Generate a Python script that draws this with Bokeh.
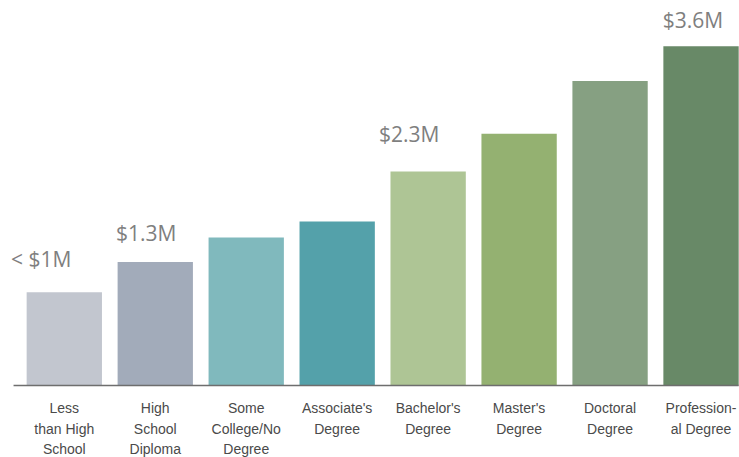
from bokeh.plotting import figure
from bokeh.models import ColumnDataSource, Range1d
from bokeh.core.properties import value
from bokeh.embed import file_html
from bokeh.resources import INLINE

# ---- data ----
categories = ["Less\nthan High\nSchool", "High\nSchool\nDiploma", "Some\nCollege/No\nDegree",
              "Associate's\nDegree", "Bachelor's\nDegree", "Master's\nDegree",
              "Doctoral\nDegree", "Profession-\nal Degree"]
earnings_musd = [0.99, 1.31, 1.57, 1.74, 2.27, 2.67, 3.23, 3.60]
bar_colors = ["#c2c6cf", "#a2abba", "#80b9bd", "#54a1aa", "#aec595", "#94b171", "#86a082", "#688967"]
value_label_index = [0, 1, 4, 7]
value_labels = ["< $1M", "$1.3M", "$2.3M", "$3.6M"]

# ---- figure ----
p = figure(width=739, height=457, output_backend="svg", toolbar_location=None,
           x_range=Range1d(-0.6135, 7.423), y_range=Range1d(-0.764, 4.0),
           min_border_left=8, min_border_right=0,
           min_border_top=8, min_border_bottom=0)
p.axis.visible = False
p.grid.visible = False
p.outline_line_color = None
p.background_fill_color = "white"
p.border_fill_color = "white"

xs = list(range(len(categories)))
src = ColumnDataSource(dict(x=xs, top=earnings_musd, color=bar_colors))
p.vbar(x="x", top="top", bottom=0, width=0.828, fill_color="color", line_color=None, source=src)

# baseline
p.segment(x0=[xs[0] - 0.558], x1=[xs[-1] + 0.414], y0=[0], y1=[0], line_color="#6e6e6e", line_width=1.6)

# category labels (multi-line, placed under the baseline)
lx, ly, lt, loff = [], [], [], []
for i, c in enumerate(categories):
    for k, line in enumerate(c.split("\n")):
        lx.append(i)
        ly.append(0)
        lt.append(line)
        loff.append(23 + 20.3 * k)
p.text(x=lx, y=ly, text=lt, y_offset=loff, text_align="center", text_baseline="middle",
       text_font=value("Liberation Sans"), text_font_size="14px", text_color="#4a4a4a")

# value labels above selected bars
vx_off = [-23, -9, -19, -8]
vy_off = [-33, -29, -38, -26]
vx = [value_label_index[j] for j in range(len(value_labels))]
vy = [earnings_musd[value_label_index[j]] for j in range(len(value_labels))]
p.text(x=vx, y=vy, text=value_labels, x_offset=vx_off, y_offset=vy_off,
       text_align="center", text_baseline="middle",
       text_font=value("Open Sans"), text_font_size="21px", text_color="#7f7f7f")

open("out.html", "w").write(file_html(p, INLINE))
